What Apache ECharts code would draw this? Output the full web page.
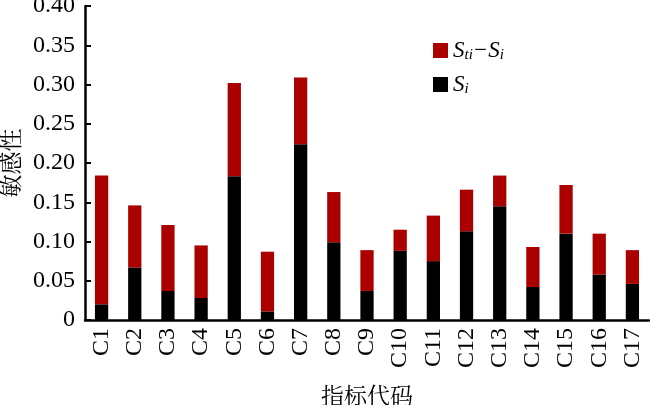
<!DOCTYPE html>
<html><head><meta charset="utf-8">
<script src="https://cdn.jsdelivr.net/npm/echarts@6/dist/echarts.min.js"></script>
<style>html,body{margin:0;padding:0;background:#fff}#c{width:650px;height:405px}</style>
</head><body><div id="c"></div>
<script>
var categories = ['C1','C2','C3','C4','C5','C6','C7','C8','C9','C10','C11','C12','C13','C14','C15','C16','C17'];
var totalST = [0.184,0.146,0.121,0.095,0.302,0.087,0.309,0.163,0.089,0.115,0.133,0.166,0.184,0.093,0.172,0.110,0.089];
var firstS = [0.020,0.067,0.037,0.028,0.183,0.011,0.224,0.099,0.037,0.088,0.075,0.113,0.145,0.042,0.110,0.058,0.046];
var yTicks = [0,0.05,0.10,0.15,0.20,0.25,0.30,0.35,0.40];
var diff = totalST.map(function(v,i){return +(v-firstS[i]).toFixed(3);});

var chart = echarts.init(document.getElementById('c'));
var serif = "'Liberation Serif', 'Times New Roman', serif";
var cjk = "'Noto Serif CJK SC', 'Noto Sans CJK SC', serif";
chart.setOption({
  animation:false,
  grid:{left:85,right:1,top:6,bottom:85,containLabel:false,outerBoundsMode:'none'},
  legend:{
    orient:'vertical', left:428, top:34, itemWidth:15, itemHeight:15, itemGap:10,
    data:[{name:'diff',icon:'rect'},{name:'si',icon:'rect'}],
    formatter:function(n){return n==='diff'?'{a|S}{b|ti}{c|−S}{b|i}':'{a|S}{b|i}';},
    textStyle:{rich:{
      a:{fontFamily:serif,fontStyle:'italic',fontSize:23,color:'#000'},
      c:{fontFamily:serif,fontStyle:'italic',fontSize:23,color:'#000'},
      b:{fontFamily:serif,fontStyle:'italic',fontSize:15,color:'#000',padding:[10,0,0,0]}
    }}
  },
  xAxis:{
    type:'category', data:categories,
    name:'指标代码', nameLocation:'middle', nameGap:64,
    nameTextStyle:{fontFamily:cjk,fontSize:23,color:'#000'},
    axisLine:{lineStyle:{color:'#000',width:2.5}},
    axisTick:{show:false},
    axisLabel:{rotate:90,fontFamily:serif,fontSize:24,color:'#000',margin:8,interval:0}
  },
  yAxis:{
    type:'value', min:0, max:0.4, interval:0.05,
    name:'敏感性', nameLocation:'middle', nameGap:62,
    nameTextStyle:{fontFamily:cjk,fontSize:23,color:'#000'},
    axisLine:{show:true,lineStyle:{color:'#000',width:2.5}},
    axisTick:{show:true,inside:true,length:6,lineStyle:{color:'#000',width:2}},
    splitLine:{show:false},
    axisLabel:{fontFamily:serif,fontSize:24,color:'#000',margin:10,
      formatter:function(v){return v===0?'0':v.toFixed(2);}}
  },
  series:[
    {name:'si',type:'bar',stack:'s',data:firstS,barWidth:'40%',itemStyle:{color:'#000000'}},
    {name:'diff',type:'bar',stack:'s',data:diff,barWidth:'40%',itemStyle:{color:'#aa0000'}}
  ]
});
</script></body></html>
